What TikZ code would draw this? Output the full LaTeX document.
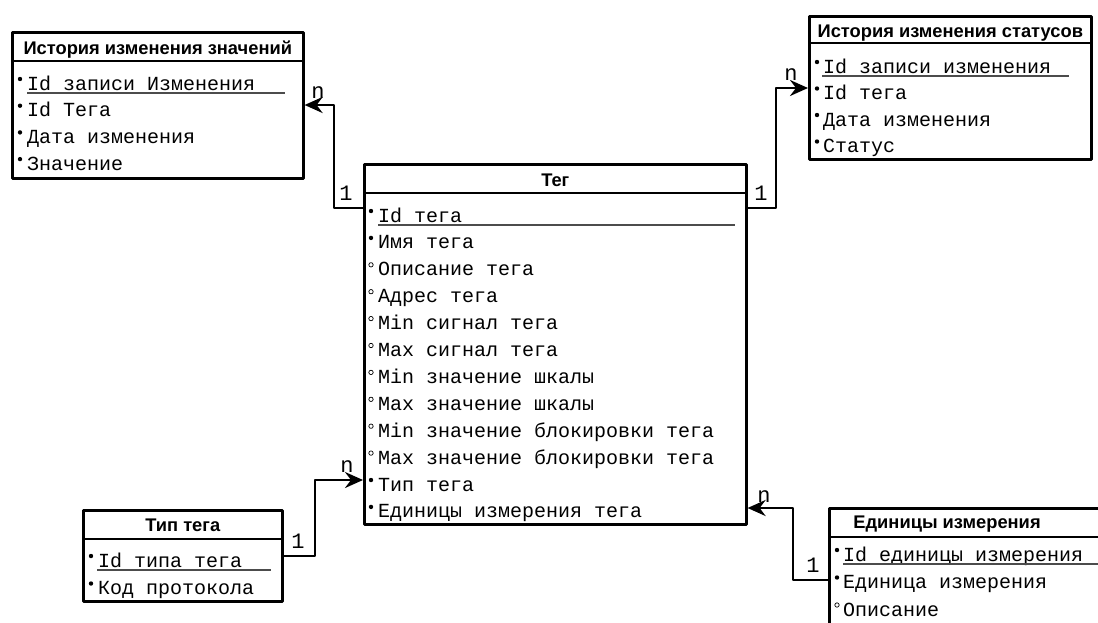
\documentclass[tikz,border=0pt]{standalone}
\usepackage{fontspec}
\setmainfont{Liberation Sans}
\newfontfamily\rowfont{Liberation Mono}
\usetikzlibrary{arrows.meta}
\tikzset{
	tbl/.style={draw, line width=2.6pt, inner sep=0pt, anchor=north west},
	hdr/.style={anchor=base, inner sep=0pt, font=\bfseries\fontsize{18.3}{18}\selectfont},
	fld/.style={anchor=base west, inner sep=0pt, font=\rowfont\fontsize{20}{20}\selectfont},
	card/.style={anchor=base, inner sep=0pt, font=\rowfont\fontsize{22}{22}\selectfont},
	sep/.style={line width=2.6pt},
	uline/.style={line width=1.4pt, draw=black!70},
	pk/.style={fill=black},
	opt/.style={draw=black, line width=0.7pt},
	rel/.style={line width=2.6pt, ->},
}
\begin{document}
\begin{tikzpicture}[x=1pt,y=-1pt,line join=round,>={Stealth[length=18pt,width=16pt,inset=6pt]}]
	\useasboundingbox (0,0) rectangle (1098,622);
	\clip (0,0) rectangle (1098,622);
	\fill[white] (0,0) rectangle (1098,622);

	% История изменения значений
	\node[tbl, minimum width=291pt, minimum height=146pt] (hz) at (11,31) {};
	\draw[sep] (hz.west |- 0,61) -- (hz.east |- 0,61);
	\node[hdr] (hzh) at (hz.north |- 0,54) {История изменения значений};
	\foreach \m/\t [count=\i] in {pk/Id записи Изменения, pk/Id Тега, pk/Дата изменения, pk/Значение}{
		\node[fld] (hz\i) at (27,{90+26.7*(\i-1)}) {\t};
		\path[\m] (hz\i.base west) ++(-7,-11) circle (2.2pt);
	}
	\draw[uline] (27,93) -- (285,93);

	% История изменения статусов
	\node[tbl, minimum width=282pt, minimum height=143pt] (hs) at (808,15) {};
	\draw[sep] (hs.west |- 0,43) -- (hs.east |- 0,43);
	\node[hdr] (hsh) at (hs.north |- 0,37) {История изменения статусов};
	\foreach \m/\t [count=\i] in {pk/Id записи изменения, pk/Id тега, pk/Дата изменения, pk/Статус}{
		\node[fld] (hs\i) at (823,{73+26.5*(\i-1)}) {\t};
		\path[\m] (hs\i.base west) ++(-6,-11) circle (2.2pt);
	}
	\draw[uline] (822,76) -- (1069,76);

	% Тег
	\node[tbl, minimum width=382pt, minimum height=360pt] (tag) at (363,163) {};
	\draw[sep] (tag.west |- 0,193) -- (tag.east |- 0,193);
	\node[hdr] (tagh) at (tag.north |- 0,186) {Тег};
	\foreach \m/\t [count=\i] in {pk/Id тега, pk/Имя тега, opt/Описание тега, opt/Адрес тега,
		opt/Min сигнал тега, opt/Max сигнал тега, opt/Min значение шкалы, opt/Max значение шкалы,
		opt/Min значение блокировки тега, opt/Max значение блокировки тега, pk/Тип тега, pk/Единицы измерения тега}{
		\node[fld] (tag\i) at (378,{222+26.9*(\i-1)}) {\t};
		\path[\m] (tag\i.base west) ++(-7,-11) circle (2.2pt);
	}
	\draw[uline] (378,225) -- (735,225);

	% Тип тега
	\node[tbl, minimum width=199pt, minimum height=91pt] (tip) at (82,509) {};
	\draw[sep] (tip.west |- 0,539) -- (tip.east |- 0,539);
	\node[hdr] (tiph) at (tip.north |- 0,531) {Тип тега};
	\foreach \m/\t [count=\i] in {pk/Id типа тега, pk/Код протокола}{
		\node[fld] (tip\i) at (98,{567+27.5*(\i-1)}) {\t};
		\path[\m] (tip\i.base west) ++(-7,-11) circle (2.2pt);
	}
	\draw[uline] (97,570) -- (271,570);

	% Единицы измерения
	\node[tbl, minimum width=300pt, minimum height=140pt] (ed) at (828,507) {};
	\draw[sep] (ed.west |- 0,537) -- (ed.east |- 0,537);
	\node[hdr] (edh) at (947,528) {Единицы измерения};
	\foreach \m/\t [count=\i] in {pk/Id единицы измерения, pk/Единица измерения, opt/Описание}{
		\node[fld] (ed\i) at (843,{561+27.5*(\i-1)}) {\t};
		\path[\m] (ed\i.base west) ++(-6,-11) circle (2.2pt);
	}
	\draw[uline] (843,564) -- (1098,564);

	% связи
	\draw[rel] (tag.west |- 0,208) -| (334,105) -- (hz.east |- 0,105);
	\draw[rel] (tag.east |- 0,208) -| (776,88) -- (hs.west |- 0,88);
	\draw[rel] (tip.east |- 0,556) -| (315,480) -- (tag.west |- 0,480);
	\draw[rel] (ed.west |- 0,580) -| (793,508) -- (tag.east |- 0,508);

	\node[card] (n1) at (318,98) {n};
	\node[card] (o1) at (346,200) {1};
	\node[card] (n2) at (791,80) {n};
	\node[card] (o2) at (761,200) {1};
	\node[card] (n3) at (347,472) {n};
	\node[card] (o3) at (298,548) {1};
	\node[card] (n4) at (764,502) {n};
	\node[card] (o4) at (813,572) {1};
\end{tikzpicture}
\end{document}
